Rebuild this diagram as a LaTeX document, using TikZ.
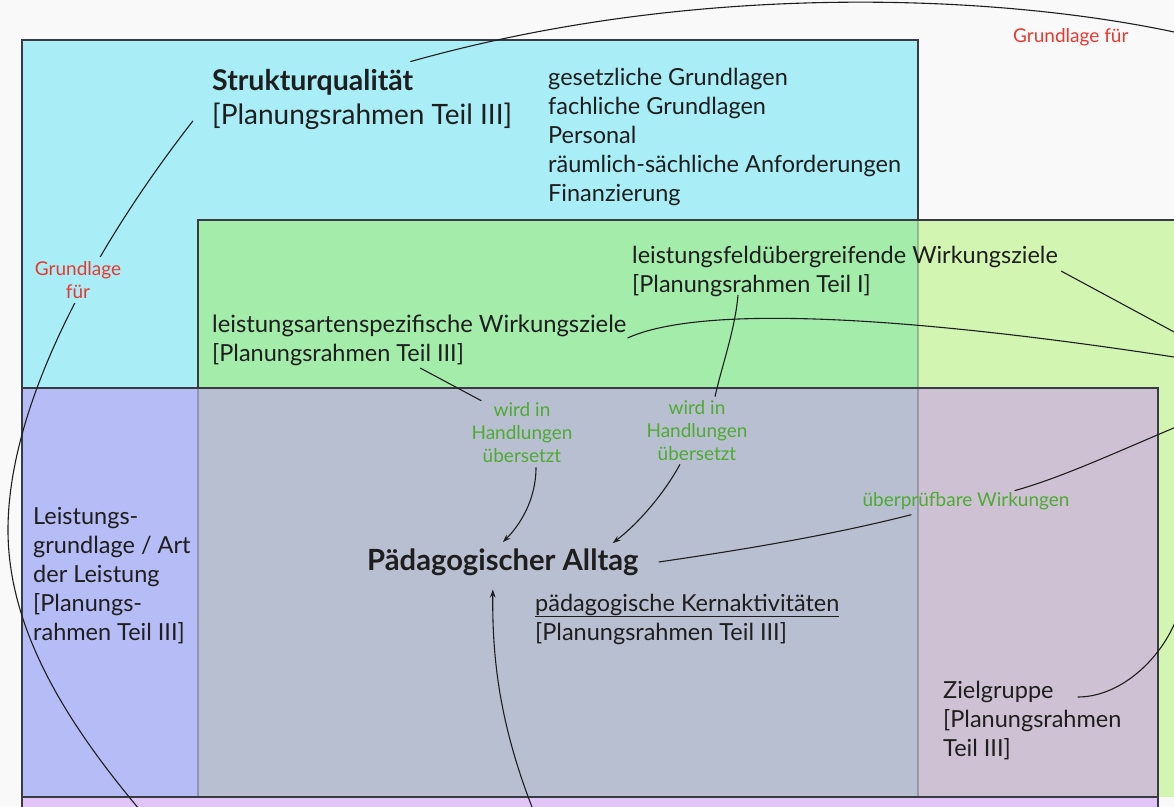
\documentclass[tikz,border=0pt]{standalone}
\usepackage{fontspec}
\setmainfont{Lato}
\usetikzlibrary{arrows.meta,calc}

\definecolor{bgc}{HTML}{F9F9F9}
\definecolor{cyanfill}{HTML}{A9EDF7}
\definecolor{greencyan}{HTML}{A3ECAA}
\definecolor{greenlight}{HTML}{D2F6B2}
\definecolor{bluecyan}{HTML}{B6BCF6}
\definecolor{grayblue}{HTML}{B8BFD1}
\definecolor{mauvefill}{HTML}{CEC1D4}
\definecolor{lilacfill}{HTML}{E0C5F6}
\definecolor{ink}{HTML}{1E1E1E}
\definecolor{edgec}{HTML}{3A3A44}
\definecolor{lblgreen}{HTML}{4FAA33}
\definecolor{lblred}{HTML}{E8392F}

\begin{document}
\begin{tikzpicture}[x=1pt,y=-1pt,
  txt/.style={inner sep=0pt, anchor=base west, text=ink, align=left,
    font=\fontsize{23.5}{29}\selectfont},
  glabel/.style={inner sep=0pt, align=center, text=lblgreen,
    font=\fontsize{19}{23}\selectfont},
  rlabel/.style={inner sep=0pt, align=center, text=lblred,
    font=\fontsize{19}{22.5}\selectfont},
  link/.style={draw=ink, line width=1.1pt},
  arr/.style={link, -{Stealth[length=8pt,width=5.5pt]}},
  boxedge/.style={draw=edgec, line width=1.2pt},
  hiddenedge/.style={draw=edgec, line width=1.2pt, draw opacity=0.3},
]
\useasboundingbox (0,0) rectangle (1174,806);
\fill[bgc] (0,0) rectangle (1174,806);

\begin{scope}
\clip (0,0) rectangle (1174,806);
% overlapping quality areas
\fill[cyanfill]   (22,40)   rectangle (918,388);
\fill[greencyan]  (198,220) rectangle (918,388);
\fill[greenlight] (918,220) rectangle (1180,797);
\fill[bluecyan]   (22,388)  rectangle (198,797);
\fill[grayblue]   (198,388) rectangle (918,797);
\fill[mauvefill]  (918,388) rectangle (1158,797);
\fill[lilacfill]  (22,797)  rectangle (1158,812);

% outlines
\draw[hiddenedge] (918,220) -- (918,797);
\draw[hiddenedge] (198,388) -- (198,797);
\draw[boxedge] (918,220) -- (918,40) -- (22,40) -- (22,812);
\draw[boxedge] (198,388) -- (198,220) -- (1180,220);
\draw[boxedge] (22,388) -- (1158,388) -- (1158,812);
\draw[boxedge] (22,797) -- (1158,797);

% texts (multi-line blocks are placed by the baseline of their last line)
\node[txt, font=\bfseries\fontsize{28.5}{32}\selectfont] (struk) at (212,90) {Strukturqualität};
\node[txt, font=\fontsize{28}{32}\selectfont] (strukref) at (212,124) {[Planungsrahmen Teil III]};
\node[txt] (strukliste) at (548,201) {gesetzliche Grundlagen\\fachliche Grundlagen\\Personal\\räumlich-sächliche Anforderungen\\Finanzierung};

\node[txt] (lfu) at (632,263) {leistungsfeldübergreifende Wirkungsziele};
\node[txt] (lfuref) at (632,292) {[Planungsrahmen Teil I]};
\node[txt, font=\fontsize{23.8}{29}\selectfont] (las) at (212,332) {leistungsartenspezifische Wirkungsziele};
\node[txt] (lasref) at (212,361) {[Planungsrahmen Teil III]};

\node[txt] (lga) at (33,640) {Leistungs-\\grundlage / Art\\der Leistung\\{[}Planungs-\\rahmen Teil III{]}};

\node[txt, font=\bfseries\fontsize{29.2}{32}\selectfont] (alltag) at (367,570) {Pädagogischer Alltag};
\node[txt] (kern) at (535,611) {\underline{pädagogische Kernaktivitäten}};
\node[txt] (kernref) at (535,640) {[Planungsrahmen Teil III]};

\node[txt] (ziel) at (943,698) {Zielgruppe};
\node[txt] (zielref) at (943,756) {[Planungsrahmen\\Teil III{]}};

\node[glabel] (w1) at (522,433) {wird in\\Handlungen\\übersetzt};
\node[glabel] (w2) at (697,431) {wird in\\Handlungen\\übersetzt};
\node[glabel, anchor=base] (wirk) at (966,506) {überprüfbare Wirkungen};
\node[rlabel, anchor=base west] (gtop) at (1013,42) {Grundlage für};

% loose ends leaving the sheet
\coordinate (offTop)  at (1174,32);
\coordinate (offLeft) at (150,822);
\coordinate (offLas)  at (1174,357);
\coordinate (offLfu)  at (1176,333);
\coordinate (offWirk) at (1176,427);
\coordinate (offZiel) at (1176,620);
\coordinate (offProz) at (538,822);

% connectors
\draw[link] ($(struk.north east)+(-3,-7)$) .. controls (700,-20) and (1000,-5) .. (offTop);
\draw[link] ($(strukref.west)+(-19,5)$) .. controls (100,240) and (8,400) .. (8,530)
            .. controls (8,640) and (80,740) .. (offLeft);
\node[rlabel, fill=cyanfill, inner sep=5pt] (gleft) at (78,280) {Grundlage\\für};

\draw[link] ($(las.base east)+(1,6)$) .. controls (700,305) and (900,315) .. (offLas);
\draw[link] ($(lfu.base east)+(3,8)$) -- (offLfu);

\draw[link] (offWirk) .. controls (1110,455) and (1060,478) .. ($(wirk.north east)+(-55,-1)$);
\draw[link] ($(wirk.south west)+(49,5)$) .. controls (820,538) and (720,553) .. ($(alltag.base east)+(20,-8)$);

\draw[link] ($(ziel.base east)+(24,-1)$) .. controls (1120,697) and (1160,660) .. (offZiel);

\draw[link] ($(lasref.base east)+(-44,7)$) -- ($(w1.north west)+(10,-2)$);
\draw[arr] ($(w1.south)+(14,4)$) .. controls (536,500) and (520,525) .. ($(alltag.north)+(0,-6)$);

\draw[link] ($(lfuref.base west)+(106,3)$) .. controls (735,330) and (722,365) .. ($(w2.north)+(18,-4)$);
\draw[arr] ($(w2.south)+(-17,3)$) .. controls (665,492) and (640,522) .. ($(alltag.north east)+(-26,-5)$);

\draw[arr] (offProz) .. controls (500,730) and (492,660) .. ($(alltag.south)+(-10,14)$);
\end{scope}
\end{tikzpicture}
\end{document}
